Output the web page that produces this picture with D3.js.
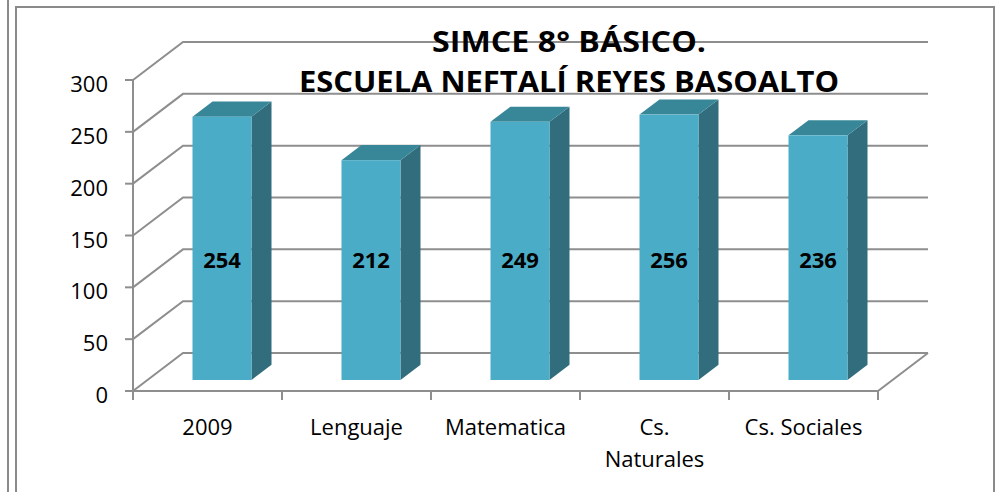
<!DOCTYPE html>
<html>
<head>
<meta charset="utf-8">
<script src="https://cdn.jsdelivr.net/npm/d3@7"></script>
<style>
  body { margin: 0; background: #fff; }
  svg { display: block; font-family: "Open Sans", sans-serif; }
</style>
</head>
<body>
<svg id="chart" width="997" height="492"></svg>
<script>
const categories = ['2009', 'Lenguaje', 'Matematica', 'Cs. Naturales', 'Cs. Sociales'];
const scores = [254, 212, 249, 256, 236];
const yTicks = [0, 50, 100, 150, 200, 250, 300];
const titleLines = ['SIMCE 8° BÁSICO.', 'ESCUELA NEFTALÍ REYES BASOALTO'];

const svg = d3.select('#chart');

// 3d look: back wall is shifted by depth
const depthX = 50, depthY = -38;
const barFront = 0.29, barBack = 0.69;

const x = d3.scaleBand().domain(categories).range([133, 878]).paddingInner(0).paddingOuter(0);
const y = d3.scaleLinear().domain([0, 300]).range([391, 80]);
const barW = 59;

const gridColor = '#8e8e8e';

// outer frame
svg.append('line').attr('x1', 8).attr('x2', 8).attr('y1', 0).attr('y2', 492)
    .attr('stroke', '#8a8a8a').attr('stroke-width', 2);
svg.append('path').attr('d', 'M16,492 V7 H994 V492')
    .attr('fill', 'none').attr('stroke', '#8a8a8a').attr('stroke-width', 2);

// walls: gridlines
const grid = svg.append('g').attr('fill', 'none').attr('stroke', gridColor).attr('stroke-width', 2);
yTicks.forEach(t => {
    const y0 = y(t);
    grid.append('path')
        .attr('d', `M${x.range()[0]},${y0} L${x.range()[0] + depthX},${y0 + depthY} H${x.range()[1] + depthX}`);
});
// floor edges
grid.append('path')
    .attr('d', `M${x.range()[1] + depthX},${y(0) + depthY} L${x.range()[1]},${y(0)} H${x.range()[0]}`);

// axes
const axisG = svg.append('g').attr('stroke', gridColor).attr('stroke-width', 2);
axisG.append('line').attr('x1', 133).attr('x2', 133).attr('y1', y(300)).attr('y2', y(0) + 9);
yTicks.forEach(t => {
    axisG.append('line').attr('x1', 125).attr('x2', 133).attr('y1', y(t)).attr('y2', y(t));
});
const xEdges = categories.map(c => x(c)).concat([x.range()[1]]);
xEdges.forEach(e => {
    axisG.append('line').attr('x1', e).attr('x2', e).attr('y1', y(0)).attr('y2', y(0) + 9);
});

svg.append('g').selectAll('text').data(yTicks).enter().append('text')
    .attr('x', 108).attr('y', d => y(d) + 12)
    .attr('text-anchor', 'end').attr('font-size', 22).attr('fill', '#000')
    .text(d => d);

// bars
const bars = svg.append('g').selectAll('g').data(categories).enter().append('g');
const fx = barFront * depthX, fy = barFront * depthY;
const bx = barBack * depthX, by = barBack * depthY;

bars.each(function(c, i) {
    const g = d3.select(this);
    const cx = x(c) + x.bandwidth() / 2 + fx;
    const l = cx - barW / 2, r = cx + barW / 2;
    const top = y(scores[i]) + fy, bot = y(0) + fy;
    g.append('path')
        .attr('d', `M${r},${top} L${r + bx - fx},${top + by - fy} V${bot + by - fy} L${r},${bot} Z`)
        .attr('fill', '#316d7c');
    g.append('path')
        .attr('d', `M${l},${top} L${l + bx - fx},${top + by - fy} H${r + bx - fx} L${r},${top} Z`)
        .attr('fill', '#388799');
    g.append('rect')
        .attr('x', l).attr('y', top).attr('width', barW).attr('height', bot - top)
        .attr('fill', '#4bacc7');
    g.append('text')
        .attr('x', cx).attr('y', 268)
        .attr('text-anchor', 'middle').attr('font-size', 22).attr('font-weight', 'bold')
        .text(scores[i]);
});

// category labels
svg.append('g').selectAll('text').data(categories).enter().append('text')
    .attr('text-anchor', 'middle').attr('font-size', 22)
    .each(function(c) {
        const t = d3.select(this);
        const cx = x(c) + x.bandwidth() / 2;
        const parts = c === 'Cs. Naturales' ? ['Cs.', 'Naturales'] : [c];
        parts.forEach((p, k) => {
            t.append('tspan').attr('x', cx).attr('y', 435 + k * 32).text(p);
        });
    });

// title, stretched to the width of the original lines
const titleWidths = [274, 540];
svg.append('g').selectAll('text').data(titleLines).enter().append('text')
    .attr('x', 569).attr('y', (d, i) => 52 + i * 40)
    .attr('text-anchor', 'middle').attr('font-size', 29).attr('font-weight', 'bold')
    .attr('textLength', (d, i) => titleWidths[i]).attr('lengthAdjust', 'spacingAndGlyphs')
    .text(d => d);
</script>
</body>
</html>
